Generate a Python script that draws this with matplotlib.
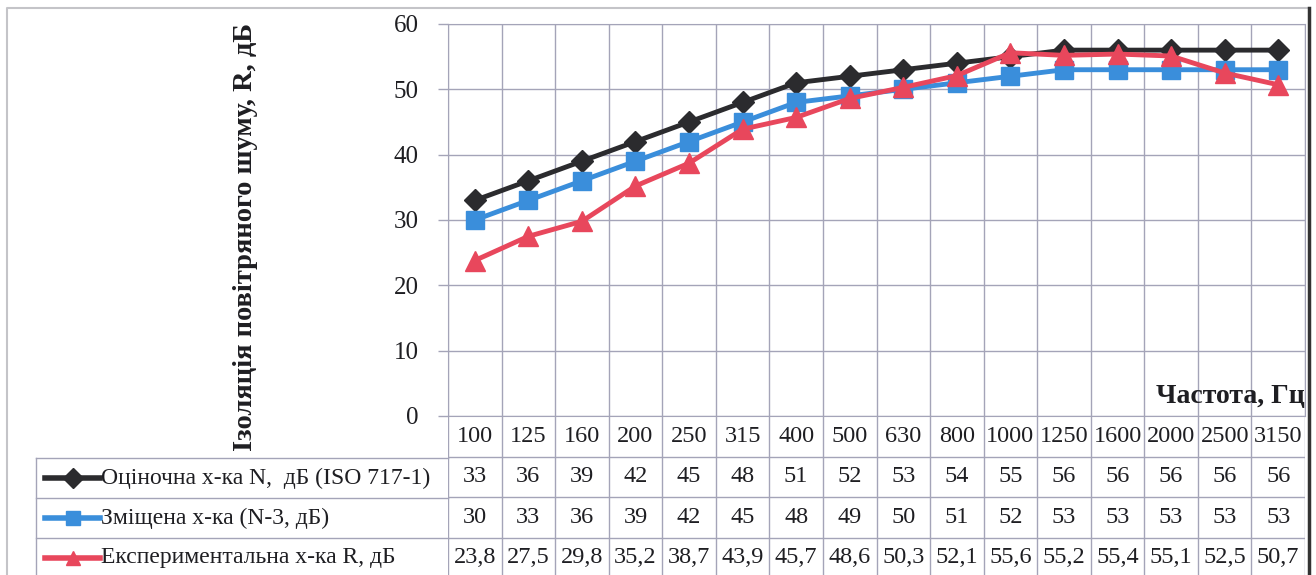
import matplotlib.pyplot as plt
from matplotlib.lines import Line2D

# Data
freqs = ["100", "125", "160", "200", "250", "315", "400", "500", "630", "800",
         "1000", "1250", "1600", "2000", "2500", "3150"]
rated = [33, 36, 39, 42, 45, 48, 51, 52, 53, 54, 55, 56, 56, 56, 56, 56]
shifted = [30, 33, 36, 39, 42, 45, 48, 49, 50, 51, 52, 53, 53, 53, 53, 53]
measured = [23.8, 27.5, 29.8, 35.2, 38.7, 43.9, 45.7, 48.6, 50.3, 52.1,
            55.6, 55.2, 55.4, 55.1, 52.5, 50.7]
names = ["Оціночна х-ка N,  дБ (ISO 717-1)", "Зміщена х-ка (N-3, дБ)",
         "Експериментальна х-ка R, дБ"]

# Styles
colors = ["#2b2b2e", "#3a8edb", "#e8475c"]
markers = ["D", "s", "^"]
msizes = [11, 12.5, 14]
grid_c = "#a4a4b8"
txt_c = "#1e1e22"
serif = ["Liberation Serif", "DejaVu Serif"]
plt.rcParams["font.family"] = serif

W, H = 1316, 575
fig = plt.figure(figsize=(W / 100, H / 100), dpi=100)

# pixel helper
def box(x0, y0, x1, y1):
    return [x0 / W, 1 - y1 / H, (x1 - x0) / W, (y1 - y0) / H]

# background overlay (pixel coords) for frame and legend column
bg = fig.add_axes([0, 0, 1, 1], zorder=0)
bg.set_xlim(0, W)
bg.set_ylim(H, 0)
bg.axis("off")

# plot area
ax = fig.add_axes(box(448, 24, 1305, 416), zorder=2)
ax.patch.set_alpha(0)
x = list(range(len(freqs)))
series = [rated, shifted, measured]
for vals, c, m, ms in zip(series, colors, markers, msizes):
    ax.plot(x, vals, color=c, lw=3.5, marker=m, ms=ms, mec=c, mfc=c, zorder=3)
ax.set_xlim(-0.5, len(freqs) - 0.5)
ax.set_ylim(0, 60)
ax.set_yticks(range(0, 61, 10))
ax.set_xticks([i + 0.5 for i in range(-1, len(freqs))])
ax.set_xticklabels([])
ax.tick_params(axis="x", length=0)
ax.tick_params(axis="y", length=7, width=1, color=grid_c, labelsize=18, pad=14,
               labelcolor=txt_c)
ax.grid(True, color=grid_c, lw=1)
for s in ax.spines.values():
    s.set_color(grid_c)
ax.text(1.0, 0.05, "Частота, Гц", transform=ax.transAxes, ha="right", va="center",
        fontsize=20, fontweight="bold", color=txt_c)

# table area under plot, same x scale
tab = fig.add_axes(box(448, 416, 1305, 578), zorder=2)
tab.set_xlim(-0.5, len(freqs) - 0.5)
tab.set_ylim(4, 0)
tab.axis("off")
for i in range(-1, len(freqs)):
    tab.plot([i + 0.5, i + 0.5], [0, 4], color=grid_c, lw=1)
for r in (1, 2, 3):
    tab.plot([-0.5, len(freqs) - 0.5], [r, r], color=grid_c, lw=1)
rows = [freqs, [str(v) for v in rated], [str(v) for v in shifted],
        [str(v).replace(".", ",") for v in measured]]
for r, row in enumerate(rows):
    for i, t in enumerate(row):
        tab.text(i, r + 0.5, t, ha="center", va="center", fontsize=17.5,
                 color=txt_c)

# legend column of the table
for y in (458, 498, 538):
    bg.plot([36, 448], [y, y], color=grid_c, lw=1)
bg.plot([36, 36], [458, H], color=grid_c, lw=1)
for k, (nm, c, m) in enumerate(zip(names, colors, markers)):
    yc = 478 + k * 40
    bg.add_line(Line2D([45, 100], [yc, yc], color=c, lw=4))
    bg.plot([73], [yc], marker=m, ms=10, color=c)
    bg.text(101, yc, nm, ha="left", va="center", fontsize=17, color=txt_c)

# y label
bg.text(246, 237, "Ізоляція повітряного шуму, R, дБ", rotation=90, ha="center",
        va="center", fontsize=20.5, fontweight="bold", color=txt_c)

# outer frame
bg.plot([7, 7, 1309], [H, 8, 8], color="#c4c4c8", lw=1.5)
bg.plot([1309, 1309], [8, H], color="#333333", lw=2.5)

fig.savefig("out.png", dpi=100)
